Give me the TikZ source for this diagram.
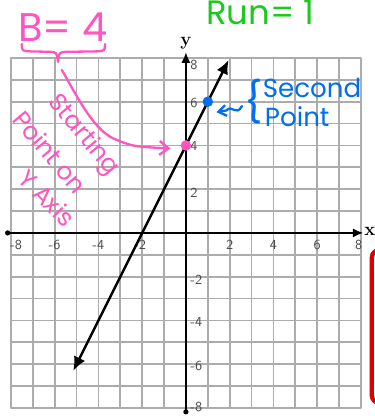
\documentclass[tikz,border=0pt]{standalone}
\usepackage{fontspec}
\newfontfamily\handfont{Poppins}
\usetikzlibrary{arrows.meta}
\definecolor{notepink}{RGB}{255,85,190}
\definecolor{notegreen}{RGB}{30,200,30}
\definecolor{noteblue}{RGB}{0,110,240}
\definecolor{notered}{RGB}{220,0,0}
\tikzset{
  gridline/.style={draw=gray!65,line width=1.1pt},
  axisline/.style={draw=black,line width=1.4pt},
  ticklabel/.style={font=\sffamily\small,text=black!70,inner sep=1pt},
  pinknote/.style={text=notepink,font=\handfont\fontsize{16}{18}\selectfont,inner sep=0pt},
  penline/.style={line width=1.5pt,line cap=round,line join=round},
}
\begin{document}
\begin{tikzpicture}[x=0.50cm,y=0.50cm,line cap=round,line join=round,>=latex]
  \useasboundingbox (-8.50,-8.37) rectangle (8.64,10.65);
  % grid
  \draw[gridline,step={(1,1)}] (-8,-8) grid (8,8);
  % axes
  \fill (-8.15,0) circle (0.12);
  \fill (0,-8.18) circle (0.12);
  \draw[axisline,-{Latex[length=7pt,width=6pt]}] (-8.15,0) -- (8.12,0);
  \node[font=\bfseries\large,inner sep=0pt,anchor=west] (xlab) at (8.14,0.05) {x};
  \draw[axisline,-{Latex[length=7pt,width=6pt]}] (0,-8.18) -- (0,8.27) node[above=-2pt,font=\bfseries\large] (ylab) {y};
  \foreach \k/\xx in {-8/-7.77,-6/-6,-4/-4,-2/-2.1,2/2,4/4,6/6,8/7.9}
    \node[ticklabel] (xt\k) at (\xx,-0.55) {\k};
  \foreach \k/\yy in {-8/-7.95,-6/-6.1,-4/-4.07,-2/-2.15,2/1.83,4/3.98,6/5.94,8/7.68}
    \node[ticklabel,anchor=west] (yt\k) at (0.12,\yy) {\k};
  % the line y = 2x + 4
  \coordinate (lineA) at (-5.15,-6.30);
  \coordinate (lineB) at (1.95,7.90);
  \draw[line width=1.6pt,{Latex[length=9pt,width=8pt]}-{Latex[length=9pt,width=8pt]}] (lineA) -- (lineB);
  \fill[notepink] (0,4) circle (0.24) coordinate (startpt);
  \fill[noteblue] (1,6) circle (0.24) coordinate (secondpt);
  % pink notes
  \node[pinknote,font=\handfont\fontsize{26}{28}\selectfont] (bnote) at (-5.62,9.42) {B= 4};
  \draw[penline,notepink] (-7.50,8.64) .. controls (-7.50,8.32) .. (-7.10,8.30) -- (-6.25,8.28)
    .. controls (-5.90,8.26) .. (-5.85,7.82) .. controls (-5.80,8.26) .. (-5.45,8.28)
    -- (-4.10,8.30) .. controls (-3.70,8.32) .. (-3.70,8.64);
  \draw[penline,notepink,-{Straight Barb[length=6pt,width=9pt]}] (-5.67,7.45)
    .. controls (-5.00,6.30) and (-4.20,4.60) .. (-3.15,4.25)
    .. controls (-2.40,3.95) .. (-0.70,3.86);
  \node[pinknote,rotate=-50] (startnote) at (-4.70,4.45) {Starting};
  \node[pinknote,rotate=-50] (pointnote) at (-6.20,3.70) {Point on};
  \node[pinknote,rotate=-45] (axisnote) at (-6.35,1.60) {Y Axis};
  % green note
  \node[text=notegreen,font=\handfont\fontsize{22}{24}\selectfont,inner sep=0pt] (runnote) at (3.40,10.06) {Run= 1};
  % blue note
  \node[text=noteblue,font=\handfont\fontsize{26}{28}\selectfont,inner sep=0pt] (bluebrace) at (3.08,6.00) {\{};
  \node[text=noteblue,font=\handfont\fontsize{17}{18}\selectfont,anchor=west,inner sep=0pt] (secondnote) at (3.50,6.62) {Second};
  \node[text=noteblue,font=\handfont\fontsize{17}{18}\selectfont,anchor=west,inner sep=0pt] (pointtwo) at (3.60,5.30) {Point};
  \draw[penline,noteblue,-{Straight Barb[length=5pt,width=7pt]}] (2.56,5.80)
    .. controls (2.30,5.30) and (2.10,5.90) .. (1.85,5.60) -- (1.40,5.52);
  % red box at the edge
  \draw[notered,line width=2.8pt,fill=white,rounded corners=5pt] (8.50,-7.77) rectangle (9.80,-0.78);
\end{tikzpicture}
\end{document}
